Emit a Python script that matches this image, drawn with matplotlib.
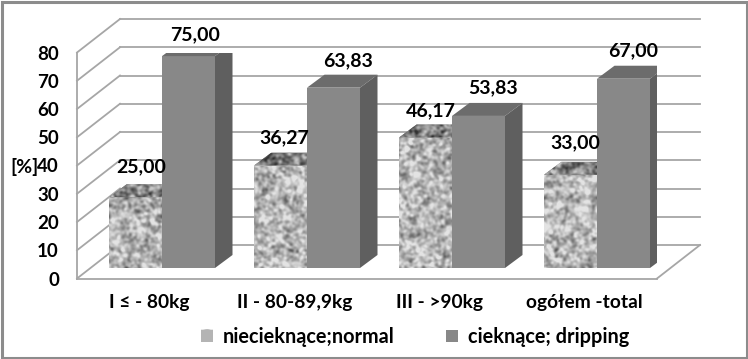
import numpy as np
import matplotlib
matplotlib.use("Agg")
import matplotlib.pyplot as plt
from matplotlib.patches import Patch, Polygon, Rectangle

plt.rcParams['font.family'] = ['Lato', 'DejaVu Sans']
plt.rcParams['font.weight'] = 'bold'

categories = ["I ≤ - 80kg", "II - 80-89,9kg", "III - >90kg", "ogółem -total"]
normal = [25.00, 36.27, 46.17, 33.00]
dripping = [75.00, 63.83, 53.83, 67.00]
series_names = ["niecieknące;normal", "cieknące; dripping"]
y_ticks = [0, 10, 20, 30, 40, 50, 60, 70, 80]

# label nudges in pixels
normal_nudge = [(6, 31), (4, 28), (5, 27), (5, 32)]
dripping_nudge = [(7, 21), (15, 27), (15, 28), (10, 28)]

W, H = 748, 359
PX_X = 145.0        # pixels per category
PX_Y = 226.0 / 80   # pixels per value unit

# oblique offsets, category units / value units
WALL_DX, WALL_DY = 43 / PX_X, 33.5 / PX_Y
BAR_DX, BAR_DY = 12.5 / PX_X, 10.5 / PX_Y
SIDE_DX, SIDE_DY = 17.5 / PX_X, 13 / PX_Y
BAR_W = 53 / PX_X

GRID = '#a6a6a6'
FRONT = '#888888'
SIDE = '#5f5f5f'
TOP = '#6c6c6c'


def noise(rows, cols, rng):
    # speckle texture for the mottled bars
    fy = np.fft.fftfreq(rows)[:, None]
    fx = np.fft.rfftfreq(cols)[None, :]
    f2 = fx ** 2 + fy ** 2
    raw = np.fft.rfft2(rng.standard_normal((rows, cols)))
    fine = np.fft.irfft2(raw * np.exp(-f2 * 2 * (np.pi * 1.3) ** 2), s=(rows, cols))
    raw = np.fft.rfft2(rng.standard_normal((rows, cols)))
    coarse = np.fft.irfft2(raw * np.exp(-f2 * 2 * (np.pi * 3.5) ** 2), s=(rows, cols))
    return fine / fine.std() + 0.4 * coarse / coarse.std()


rng = np.random.default_rng(7)

fig = plt.figure(figsize=(W / 100, H / 100), dpi=100, facecolor='white')
ax = fig.add_axes([77 / W, (H - 278.5) / H, 580 / W, 226 / H])
ax.set_facecolor('none')

# walls
for v in y_ticks[1:]:
    x0, x1 = -0.5 + WALL_DX, 3.5 + WALL_DX
    ax.plot([x0, x1], [v + WALL_DY] * 2, color=GRID, lw=1.3, clip_on=False, zorder=1)
for v in y_ticks:
    ax.plot([-0.5, -0.5 + WALL_DX], [v, v + WALL_DY], color=GRID, lw=1.3, clip_on=False, zorder=1)
ax.plot([-0.5 + WALL_DX, 3.5 + WALL_DX], [WALL_DY, WALL_DY], color=GRID, lw=1.3, clip_on=False, zorder=1)
ax.plot([3.5, 3.5 + WALL_DX], [0, WALL_DY], color=GRID, lw=1.3, clip_on=False, zorder=1)

x = np.arange(len(categories))
z = 3
for i in x:
    xn = i + BAR_DX - BAR_W / 2
    xd = i + BAR_DX + BAR_W / 2

    # mottled bar, texture clipped to bar face and top
    face = ax.bar(xn, normal[i], BAR_W, bottom=BAR_DY, color='#b4b4b4', zorder=z)[0]
    rows, cols = int(normal[i] * PX_Y) + 2, 54
    img = np.clip(184 + 26 * noise(rows, cols, rng), 85, 228)
    im = ax.imshow(img, cmap='gray', vmin=0, vmax=255, aspect='auto', interpolation='bilinear', zorder=z,
                   extent=(xn - BAR_W / 2, xn + BAR_W / 2, BAR_DY, BAR_DY + normal[i]))
    im.set_clip_path(face)

    l, r, t = xn - BAR_W / 2, xn + BAR_W / 2, normal[i] + BAR_DY
    top = Polygon([(l, t), (r, t), (r + SIDE_DX, t + SIDE_DY), (l + SIDE_DX, t + SIDE_DY)],
                  closed=True, facecolor='#808080', edgecolor='none', zorder=z)
    ax.add_patch(top)
    img = np.clip(128 + 30 * noise(14, 72, rng), 50, 200)
    im = ax.imshow(img, cmap='gray', vmin=0, vmax=255, aspect='auto', interpolation='bilinear', zorder=z,
                   extent=(l, r + SIDE_DX, t, t + SIDE_DY))
    im.set_clip_path(top)

    # plain bar
    z += 1
    ax.bar(xd, dripping[i], BAR_W, bottom=BAR_DY, color=FRONT, zorder=z)
    l, r, t = xd - BAR_W / 2, xd + BAR_W / 2, dripping[i] + BAR_DY
    ax.add_patch(Polygon([(l, t), (r, t), (r + SIDE_DX, t + SIDE_DY), (l + SIDE_DX, t + SIDE_DY)],
                         closed=True, facecolor=TOP, edgecolor='none', zorder=z))
    ax.add_patch(Polygon([(r, BAR_DY), (r + SIDE_DX, BAR_DY + SIDE_DY), (r + SIDE_DX, t + SIDE_DY), (r, t)],
                         closed=True, facecolor=SIDE, edgecolor='none', zorder=z))
    z += 1

    ax.annotate(f"{normal[i]:.2f}".replace('.', ','), (xn, normal[i] + BAR_DY), xytext=normal_nudge[i],
                textcoords='offset pixels', ha='center', va='center', fontsize=14, color='black', zorder=20)
    ax.annotate(f"{dripping[i]:.2f}".replace('.', ','), (xd, dripping[i] + BAR_DY), xytext=dripping_nudge[i],
                textcoords='offset pixels', ha='center', va='center', fontsize=14, color='black', zorder=20)

ax.set_xlim(-0.5, 3.5)
ax.set_ylim(0, 80)
ax.set_xticks(x, categories)
ax.set_yticks(y_ticks)
ax.tick_params(axis='x', length=0, pad=11, labelsize=13.8)
ax.tick_params(axis='y', length=0, pad=13, labelsize=13.5)
for s in ['top', 'right']:
    ax.spines[s].set_visible(False)
for s in ['left', 'bottom']:
    ax.spines[s].set_color(GRID)
    ax.spines[s].set_linewidth(1.3)

fig.text(10 / W, 1 - 167 / H, "[%]", fontsize=14, ha='left', va='center')

# legend
handles = [Patch(facecolor='#b4b4b4', label=series_names[0]), Patch(facecolor=FRONT, label=series_names[1])]
leg = fig.legend(handles=handles, ncol=2, frameon=False, fontsize=14.3, loc='center',
                 bbox_to_anchor=(415 / W, 1 - 337 / H), columnspacing=2.6, handlelength=0.58,
                 handleheight=0.58, handletextpad=0.5)

fig.canvas.draw()
box = leg.get_patches()[0].get_window_extent().transformed(ax.transData.inverted())
ax.imshow(np.clip(190 + 22 * noise(11, 11, rng), 110, 232), cmap='gray', vmin=0, vmax=255, aspect='auto',
          extent=(box.x0, box.x1, box.y0, box.y1), clip_on=False, zorder=30)
ax.set_xlim(-0.5, 3.5)
ax.set_ylim(0, 80)

# outer frame
fig.add_artist(Rectangle((1.5 / W, 1.5 / H), (W - 3) / W, (H - 3) / H, transform=fig.transFigure,
                         fill=False, edgecolor='#8c8c8c', linewidth=2.2))

fig.savefig('out.png', dpi=100)
